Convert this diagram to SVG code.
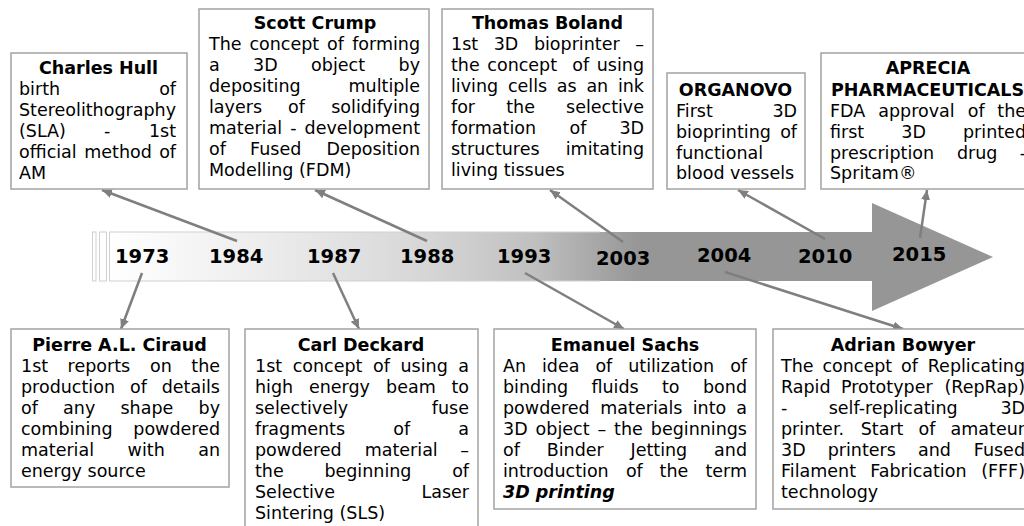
<svg xmlns="http://www.w3.org/2000/svg" width="1024" height="526" viewBox="0 0 1024 526">
<style>
text{font-family:"DejaVu Sans","Verdana","Liberation Sans",sans-serif;fill:#000}
.b{font-size:17.5px}
.r{font-size:17.5px;text-anchor:end}
.t{font-size:17.5px;font-weight:bold;text-anchor:middle}
.bi{font-size:17.5px;font-weight:bold;font-style:italic}
.y{font-size:19.5px;font-weight:bold}
.box{fill:#fff;stroke:#a3a3a3;stroke-width:1.5}
.c{stroke:#7f7f7f;stroke-width:2.5;fill:none;marker-end:url(#ah)}
</style>
<defs>
<linearGradient id="g" gradientUnits="userSpaceOnUse" x1="109" y1="0" x2="640" y2="0">
<stop offset="0" stop-color="#ffffff"/>
<stop offset="0.3" stop-color="#ececec"/>
<stop offset="0.6" stop-color="#d6d6d6"/>
<stop offset="0.8" stop-color="#c0c0c0"/>
<stop offset="1" stop-color="#969696"/>
</linearGradient>
<marker id="ah" markerUnits="userSpaceOnUse" markerWidth="11" markerHeight="10" refX="10" refY="4.5" orient="auto">
<path d="M0,0 L10,4.5 L0,9 Z" fill="#7f7f7f"/>
</marker>
</defs>

<g id="timeline">
<rect x="92.5" y="232" width="3.5" height="49" fill="#fff" stroke="#d0d0d0" stroke-width="1"/>
<rect x="99.5" y="232" width="7" height="49" fill="#fff" stroke="#d0d0d0" stroke-width="1"/>
<path d="M109,232 H872 V203 L993,257 L872,311 V281 H109 Z" fill="url(#g)"/>
<path d="M600,232 H109.5 V281 H600" fill="none" stroke="#d0d0d0" stroke-width="1"/>
<text class="y" x="115" y="263">1973</text>
<text class="y" x="209" y="263">1984</text>
<text class="y" x="307" y="263">1987</text>
<text class="y" x="400" y="263">1988</text>
<text class="y" x="497" y="263">1993</text>
<text class="y" x="596" y="265">2003</text>
<text class="y" x="697" y="262">2004</text>
<text class="y" x="798" y="262.5">2010</text>
<text class="y" x="892" y="261">2015</text>
</g>

<g id="connectors">
<line class="c" x1="237" y1="241" x2="102" y2="190"/>
<line class="c" x1="427" y1="241" x2="315" y2="190"/>
<line class="c" x1="623" y1="242" x2="550" y2="190"/>
<line class="c" x1="825" y1="239" x2="738" y2="190"/>
<line class="c" x1="920" y1="238" x2="927" y2="190"/>
<line class="c" x1="142" y1="273" x2="121" y2="329"/>
<line class="c" x1="333" y1="273" x2="359" y2="329"/>
<line class="c" x1="525" y1="273" x2="624" y2="329"/>
<line class="c" x1="725" y1="272" x2="903" y2="329"/>
</g>

<g id="charles-hull">
<rect class="box" x="11" y="53" width="176" height="136"/>
<text class="t" x="98.5" y="74">Charles Hull</text>
<text class="b" x="19" y="95">birth</text><text class="r" x="176" y="95">of</text>
<text class="b" x="19" y="116">Stereolithography</text>
<text class="b" x="19" y="137">(SLA)</text><text class="b" x="104" y="137">-</text><text class="r" x="176" y="137">1st</text>
<text class="b" x="19" y="158">official</text><text class="b" x="84.3" y="158">method</text><text class="r" x="176" y="158">of</text>
<text class="b" x="19" y="179">AM</text>
</g>

<g id="scott-crump">
<rect class="box" x="199" y="9" width="230" height="180"/>
<text class="t" x="315" y="28.5">Scott Crump</text>
<text class="b" x="209" y="49.5">The</text><text class="b" x="249.4" y="49.5">concept</text><text class="b" x="327.1" y="49.5">of</text><text class="r" x="420" y="49.5">forming</text>
<text class="b" x="209" y="70.5">a</text><text class="b" x="253.1" y="70.5">3D</text><text class="b" x="311.1" y="70.5">object</text><text class="r" x="420" y="70.5">by</text>
<text class="b" x="209" y="91.5">depositing</text><text class="r" x="420" y="91.5">multiple</text>
<text class="b" x="209" y="112.5">layers</text><text class="b" x="288" y="112.5">of</text><text class="r" x="420" y="112.5">solidifying</text>
<text class="b" x="209" y="133.5">material</text><text class="b" x="290.2" y="133.5">-</text><text class="r" x="420" y="133.5">development</text>
<text class="b" x="209" y="154.5">of</text><text class="b" x="250.1" y="154.5">Fused</text><text class="r" x="420" y="154.5">Deposition</text>
<text class="b" x="209" y="175.5">Modelling (FDM)</text>
</g>

<g id="thomas-boland">
<rect class="box" x="442" y="9" width="211" height="180"/>
<text class="t" x="547.5" y="28.5">Thomas Boland</text>
<text class="b" x="451" y="49.5">1st</text><text class="b" x="493.7" y="49.5">3D</text><text class="b" x="533.9" y="49.5">bioprinter</text><text class="r" x="644" y="49.5">–</text>
<text class="b" x="451" y="70.5">the</text><text class="b" x="487.3" y="70.5">concept</text><text class="b" x="572.3" y="70.5">of</text><text class="r" x="644" y="70.5">using</text>
<text class="b" x="451" y="91.5">living</text><text class="b" x="507.9" y="91.5">cells</text><text class="b" x="556.8" y="91.5">as</text><text class="b" x="586.4" y="91.5">an</text><text class="r" x="644" y="91.5">ink</text>
<text class="b" x="451" y="112.5">for</text><text class="b" x="506.2" y="112.5">the</text><text class="r" x="644" y="112.5">selective</text>
<text class="b" x="451" y="133.5">formation</text><text class="b" x="569.5" y="133.5">of</text><text class="r" x="644" y="133.5">3D</text>
<text class="b" x="451" y="154.5">structures</text><text class="r" x="644" y="154.5">imitating</text>
<text class="b" x="451" y="175.5">living tissues</text>
</g>

<g id="organovo">
<rect class="box" x="667" y="73" width="138" height="116"/>
<text class="t" x="735.5" y="96">ORGANOVO</text>
<text class="b" x="676" y="117">First</text><text class="r" x="797" y="117">3D</text>
<text class="b" x="676" y="138">bioprinting</text><text class="r" x="797" y="138">of</text>
<text class="b" x="676" y="158.5">functional</text>
<text class="b" x="676" y="179.3">blood vessels</text>
</g>

<g id="aprecia">
<rect class="box" x="821" y="53" width="215" height="136"/>
<text class="t" x="928" y="74">APRECIA</text>
<text class="b" x="831" y="96" font-weight="bold">PHARMACEUTICALS</text>
<text class="b" x="830" y="117">FDA</text><text class="b" x="878.2" y="117">approval</text><text class="b" x="967.7" y="117">of</text><text class="r" x="1026" y="117">the</text>
<text class="b" x="830" y="138">first</text><text class="b" x="901.3" y="138">3D</text><text class="r" x="1026" y="138">printed</text>
<text class="b" x="830" y="158.5">prescription</text><text class="b" x="956.9" y="158.5">drug</text><text class="r" x="1026" y="158.5">-</text>
<text class="b" x="830" y="179.3">Spritam®</text>
</g>

<g id="pierre-ciraud">
<rect class="box" x="11" y="329" width="218" height="158"/>
<text class="t" x="119.5" y="351">Pierre A.L. Ciraud</text>
<text class="b" x="21" y="372">1st</text><text class="b" x="67.6" y="372">reports</text><text class="b" x="150.1" y="372">on</text><text class="r" x="220" y="372">the</text>
<text class="b" x="21" y="393">production</text><text class="b" x="130.1" y="393">of</text><text class="r" x="220" y="393">details</text>
<text class="b" x="21" y="414">of</text><text class="b" x="63.1" y="414">any</text><text class="b" x="120.5" y="414">shape</text><text class="r" x="220" y="414">by</text>
<text class="b" x="21" y="435">combining</text><text class="r" x="220" y="435">powdered</text>
<text class="b" x="21" y="456">material</text><text class="b" x="127.6" y="456">with</text><text class="r" x="220" y="456">an</text>
<text class="b" x="21" y="477">energy source</text>
</g>

<g id="carl-deckard">
<rect class="box" x="245" y="329" width="233" height="215"/>
<text class="t" x="361" y="351">Carl Deckard</text>
<text class="b" x="255" y="372">1st</text><text class="b" x="292.7" y="372">concept</text><text class="b" x="373" y="372">of</text><text class="b" x="400.5" y="372">using</text><text class="r" x="469" y="372">a</text>
<text class="b" x="255" y="393">high</text><text class="b" x="309" y="393">energy</text><text class="b" x="386.1" y="393">beam</text><text class="r" x="469" y="393">to</text>
<text class="b" x="255" y="414">selectively</text><text class="r" x="469" y="414">fuse</text>
<text class="b" x="255" y="435">fragments</text><text class="b" x="393.3" y="435">of</text><text class="r" x="469" y="435">a</text>
<text class="b" x="255" y="456">powdered</text><text class="b" x="364.7" y="456">material</text><text class="r" x="469" y="456">–</text>
<text class="b" x="255" y="477">the</text><text class="b" x="324.4" y="477">beginning</text><text class="r" x="469" y="477">of</text>
<text class="b" x="255" y="498">Selective</text><text class="r" x="469" y="498">Laser</text>
<text class="b" x="255" y="519">Sintering (SLS)</text>
</g>

<g id="emanuel-sachs">
<rect class="box" x="494" y="329" width="262" height="180"/>
<text class="t" x="625" y="351">Emanuel Sachs</text>
<text class="b" x="503" y="372">An</text><text class="b" x="542" y="372">idea</text><text class="b" x="595.4" y="372">of</text><text class="b" x="628.2" y="372">utilization</text><text class="r" x="747" y="372">of</text>
<text class="b" x="503" y="393">binding</text><text class="b" x="591.5" y="393">fluids</text><text class="b" x="662" y="393">to</text><text class="r" x="747" y="393">bond</text>
<text class="b" x="503" y="414">powdered</text><text class="b" x="600.3" y="414">materials</text><text class="b" x="692.7" y="414">into</text><text class="r" x="747" y="414">a</text>
<text class="b" x="503" y="435">3D</text><text class="b" x="535.6" y="435">object</text><text class="b" x="597.4" y="435">–</text><text class="b" x="614.1" y="435">the</text><text class="r" x="747" y="435">beginnings</text>
<text class="b" x="503" y="456">of</text><text class="b" x="546.7" y="456">Binder</text><text class="b" x="630.5" y="456">Jetting</text><text class="r" x="747" y="456">and</text>
<text class="b" x="503" y="477">introduction</text><text class="b" x="625.9" y="477">of</text><text class="b" x="659.6" y="477">the</text><text class="r" x="747" y="477">term</text>
<text class="bi" x="503" y="498">3D printing</text>
</g>

<g id="adrian-bowyer">
<rect class="box" x="773" y="329" width="265" height="180"/>
<text class="t" x="903" y="351">Adrian Bowyer</text>
<text class="b" x="781" y="372">The</text><text class="b" x="822.4" y="372">concept</text><text class="b" x="901.1" y="372">of</text><text class="r" x="1025" y="372">Replicating</text>
<text class="b" x="781" y="393">Rapid</text><text class="b" x="841" y="393">Prototyper</text><text class="r" x="1025" y="393">(RepRap)</text>
<text class="b" x="781" y="414">-</text><text class="b" x="828.7" y="414">self-replicating</text><text class="r" x="1025" y="414">3D</text>
<text class="b" x="781" y="435">printer.</text><text class="b" x="860.7" y="435">Start</text><text class="b" x="918.6" y="435">of</text><text class="r" x="1025" y="435">amateur</text>
<text class="b" x="781" y="456">3D</text><text class="b" x="827.7" y="456">printers</text><text class="b" x="918" y="456">and</text><text class="r" x="1025" y="456">Fused</text>
<text class="b" x="781" y="477">Filament</text><text class="b" x="870.3" y="477">Fabrication</text><text class="r" x="1025" y="477">(FFF)</text>
<text class="b" x="781" y="498">technology</text>
</g>
</svg>
